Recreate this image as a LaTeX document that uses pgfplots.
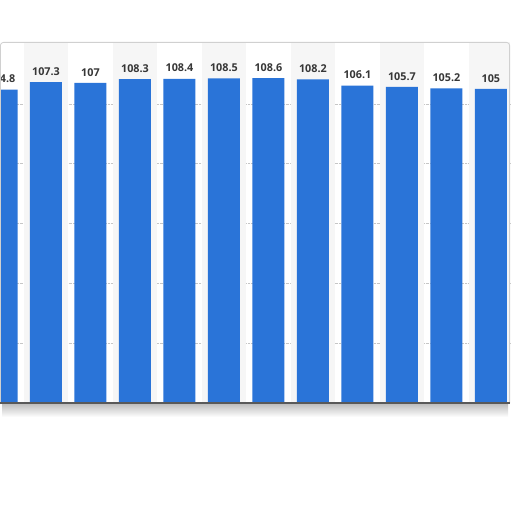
\documentclass[border=0pt]{standalone}
\usepackage{fontspec}
\setmainfont{Open Sans}
\usepackage{pgfplots}
\pgfplotsset{compat=1.18}
\definecolor{barblue}{RGB}{42,116,216}
\definecolor{lbl}{RGB}{55,55,55}
\definecolor{frame}{RGB}{208,208,208}
\begin{document}
\begin{tikzpicture}[x=1pt,y=1pt]
\useasboundingbox (0,-109) rectangle (512,403);
% shadow under baseline
\shade[top color=black!25, bottom color=white] (2,-1) rectangle (508,-14);
\fill[white] (0,0) rectangle (510,361);
\begin{axis}[
  at={(0,0)}, anchor=south west,
  width=510pt, height=361pt, scale only axis,
  xmin=-0.034, xmax=11.43,
  ymin=0, ymax=120.7,
  axis line style={draw=none},
  ytick={20,40,60,80,100},
  yticklabels={},
  xtick=\empty,
  major tick length=0pt,
  ymajorgrids,
  grid style={densely dotted, gray!45, line width=0.5pt},
  axis on top=false,
  ybar, bar width=32pt,
  nodes near coords,
  every node near coord/.append style={font=\bfseries\fontsize{10.8}{13}\selectfont, text=lbl, anchor=south, inner sep=0pt, yshift=6.5pt},
  /pgf/number format/assume math mode=true,
  clip=false,
]
\fill[black!3.5] (axis cs:0.5,0) rectangle (axis cs:1.5,120.7);
\fill[black!3.5] (axis cs:2.5,0) rectangle (axis cs:3.5,120.7);
\fill[black!3.5] (axis cs:4.5,0) rectangle (axis cs:5.5,120.7);
\fill[black!3.5] (axis cs:6.5,0) rectangle (axis cs:7.5,120.7);
\fill[black!3.5] (axis cs:8.5,0) rectangle (axis cs:9.5,120.7);
\fill[black!3.5] (axis cs:10.5,0) rectangle (axis cs:11.43,120.7);
\addplot[fill=barblue, draw=none] coordinates {
(0,104.8) (1,107.3) (2,107) (3,108.3) (4,108.4) (5,108.5) (6,108.6) (7,108.2) (8,106.1) (9,105.7) (10,105.2) (11,105)
};
\end{axis}
\fill[white] (-20,-1) rectangle (0,370);
\draw[frame, line width=0.8pt, rounded corners=3pt] (0.4,0) -- (0.4,360.6) -- (509.6,360.6) -- (509.6,0);
\draw[black!65, line width=1.2pt] (0,0) -- (510,0);
\end{tikzpicture}
\end{document}
